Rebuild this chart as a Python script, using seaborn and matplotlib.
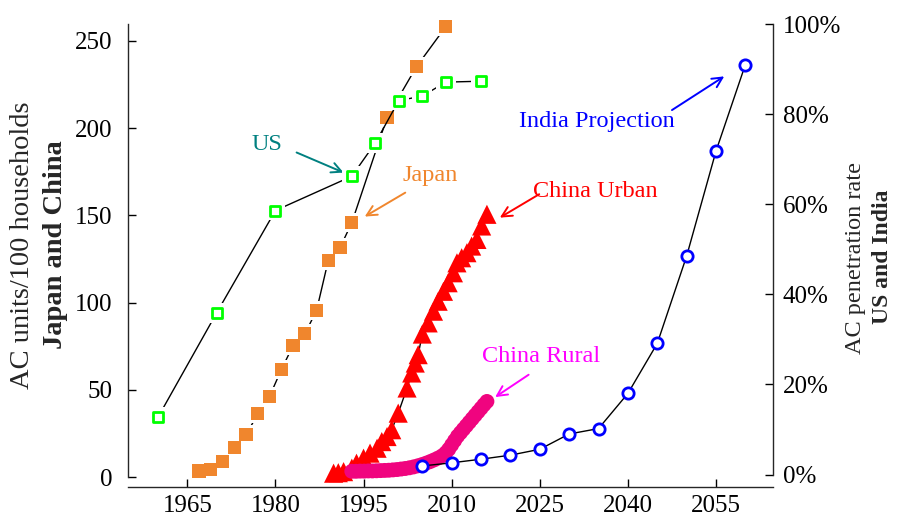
import matplotlib
matplotlib.use("Agg")
import matplotlib.pyplot as plt
import seaborn as sns
import pandas as pd
from matplotlib.ticker import PercentFormatter

# ---------------- data ----------------
us_years = [1960, 1970, 1980, 1993, 1997, 2001, 2005, 2009, 2015]
us_rate = [0.127, 0.359, 0.586, 0.662, 0.736, 0.830, 0.840, 0.871, 0.873]

japan_years = [1967, 1969, 1971, 1973, 1975, 1977, 1979, 1981, 1983, 1985,
               1987, 1989, 1991, 1993, 1999, 2004, 2009]
japan_units = [3.6, 4.6, 9.0, 17.2, 24.3, 36.3, 46.3, 61.6, 75.4, 82.1,
               95.5, 124.3, 131.5, 145.8, 206.1, 235.1, 258.1]

urban_years = [1989.9, 1990.7, 1991.6, 1993.0, 1993.8, 1995.0, 1996.1, 1997.3,
               1998.1, 1999.0, 1999.8, 2000.9, 2002.4, 2003.2, 2003.8, 2004.3,
               2005.0, 2006.0, 2006.9, 2007.7, 2008.6, 2009.4, 2010.3, 2010.9,
               2011.7, 2012.6, 2013.4, 2014.3, 2015.1, 2016.0]
urban_units = [2.3, 2.6, 3.2, 5.2, 8.0, 10.9, 13.8, 16.6,
               20.4, 23.3, 27.2, 36.7, 51.1, 59.7, 65.4, 70.2,
               82.0, 88.4, 95.1, 100.8, 106.5, 111.4, 117.1, 122.8,
               125.7, 128.6, 132.4, 136.2, 143.9, 150.6]

rural_years = [1993.0, 1993.7, 1994.4, 1995.1, 1995.8, 1996.5, 1997.2, 1997.9,
               1998.6, 1999.3, 2000.0, 2000.7, 2001.4, 2002.1, 2002.8, 2003.5,
               2004.2, 2004.9, 2005.6, 2006.3, 2007.0, 2007.7, 2008.4, 2009.0,
               2009.5, 2010.0, 2010.5, 2011.0, 2011.5, 2012.0, 2012.5, 2013.0,
               2013.5, 2014.0, 2014.5, 2015.0, 2015.5, 2016.0]
rural_units = [3.4, 3.4, 3.5, 3.5, 3.6, 3.6, 3.7, 3.8,
               3.9, 4.0, 4.2, 4.4, 4.7, 5.0, 5.4, 5.9,
               6.5, 7.2, 8.0, 8.9, 9.9, 11.0, 12.3, 14.0,
               16.0, 18.5, 21.0, 23.5, 25.5, 27.5, 29.5, 31.5,
               33.5, 35.5, 37.5, 39.5, 41.5, 43.4]

india_years = [2005, 2010, 2015, 2020, 2025, 2030, 2035, 2040, 2045, 2050, 2055, 2060]
india_rate = [0.019, 0.026, 0.034, 0.043, 0.056, 0.090, 0.102, 0.180, 0.291,
              0.485, 0.718, 0.910]

x_ticks = [1965, 1980, 1995, 2010, 2025, 2040, 2055]
left_ticks = [0, 50, 100, 150, 200, 250]
right_ticks = [0, 0.2, 0.4, 0.6, 0.8, 1.0]

# ---------------- style ----------------
sns.set_theme(style="ticks")
plt.rcParams["font.family"] = ["Liberation Serif", "STIXGeneral", "DejaVu Serif"]
plt.rcParams["axes.linewidth"] = 1.0

C_US = "#00FF00"
C_JP = "#F0862D"
C_URB = "#FF0000"
C_RUR = "#F0047F"
C_IND = "#0000FF"

fig, ax = plt.subplots(figsize=(9.01, 5.19), dpi=100)
fig.subplots_adjust(left=128 / 901, right=773 / 901, top=1 - 24 / 519, bottom=1 - 487 / 519)
ax2 = ax.twinx()

LW = 1.0
# left axis series
jp = pd.DataFrame({"x": japan_years, "y": japan_units})
ur = pd.DataFrame({"x": urban_years, "y": urban_units})
ru = pd.DataFrame({"x": rural_years, "y": rural_units})
sns.lineplot(data=jp, x="x", y="y", ax=ax, color="black", lw=LW, estimator=None, zorder=2)
sns.lineplot(data=ur, x="x", y="y", ax=ax, color="black", lw=LW, estimator=None, zorder=2)
# white halo so the connecting line stops short of each marker
sns.scatterplot(data=jp, x="x", y="y", ax=ax, marker="s", s=190, color="white",
                edgecolor="none", linewidth=0, zorder=2.5)
sns.scatterplot(data=jp, x="x", y="y", ax=ax, marker="s", s=90, color=C_JP,
                edgecolor="none", linewidth=0, zorder=3, clip_on=False)
sns.scatterplot(data=ur, x="x", y="y", ax=ax, marker="^", s=190, color=C_URB,
                edgecolor="none", linewidth=0, zorder=3)
sns.lineplot(data=ru, x="x", y="y", ax=ax, color="black", lw=LW, estimator=None, zorder=4)
sns.scatterplot(data=ru, x="x", y="y", ax=ax, marker="o", s=115, color=C_RUR,
                edgecolor="none", linewidth=0, zorder=5)

# right axis series
us = pd.DataFrame({"x": us_years, "y": us_rate})
ind = pd.DataFrame({"x": india_years, "y": india_rate})
sns.lineplot(data=us, x="x", y="y", ax=ax2, color="black", lw=LW, estimator=None, zorder=2)
sns.lineplot(data=ind, x="x", y="y", ax=ax2, color="black", lw=LW, estimator=None, zorder=2)
sns.scatterplot(data=us, x="x", y="y", ax=ax2, marker="s", s=200, color="white",
                edgecolor="none", linewidth=0, zorder=2.5)
sns.scatterplot(data=us, x="x", y="y", ax=ax2, marker="s", s=58, color="white",
                edgecolor=C_US, linewidth=2.0, zorder=3)
sns.scatterplot(data=ind, x="x", y="y", ax=ax2, marker="o", s=66, color="white",
                edgecolor=C_IND, linewidth=2.0, zorder=3)

# ---------------- axes ----------------
ax.set_xlim(1954.9, 2064.7)
ax.set_ylim(-5.6, 259.6)
ax2.set_ylim(-0.0277, 1.0)
ax.set_xticks(x_ticks)
ax.set_yticks(left_ticks)
ax2.set_yticks(right_ticks)
ax2.yaxis.set_major_formatter(PercentFormatter(1.0, decimals=0))
ax.set_xlabel("")
ax.set_ylabel("")
ax2.set_ylabel("")

for a in (ax, ax2):
    a.spines["top"].set_visible(False)
ax.spines["right"].set_visible(False)
ax2.spines["left"].set_visible(False)
ax2.spines["bottom"].set_visible(False)
ax.spines["left"].set_bounds(0, 259.6)
ax2.spines["right"].set_bounds(0, 1.0)

ax.tick_params(axis="x", direction="in", length=6, width=1, labelsize=18, pad=6, colors="black")
ax.tick_params(axis="y", direction="in", length=6, width=1, labelsize=18, pad=11, colors="black")
ax2.tick_params(axis="y", direction="in", length=6, width=1, labelsize=18, pad=7, colors="black")

# axis titles
fig.text(23 / 901, 1 - 245 / 519, "AC units/100 households", rotation=90,
         ha="center", va="center", fontsize=20.5)
fig.text(55 / 901, 1 - 245 / 519, "Japan and China", rotation=90,
         ha="center", va="center", fontsize=20.5, fontweight="bold")
fig.text(856 / 901, 1 - 258 / 519, "AC penetration rate", rotation=90,
         ha="center", va="center", fontsize=17.5)
fig.text(883 / 901, 1 - 257 / 519, "US and India", rotation=90,
         ha="center", va="center", fontsize=17, fontweight="bold")

# annotations (positions in left-axis data coordinates)
def label(text, txy, start, tip, color):
    ax.text(txy[0], txy[1], text, color=color, fontsize=17.5, ha="center", va="center", zorder=10)
    ax.annotate("", xy=tip, xytext=start,
                arrowprops=dict(arrowstyle="->", color=color, lw=1.4, mutation_scale=18,
                                shrinkA=0, shrinkB=0), zorder=10)

label("US", (1978.5, 190.8), (1983.6, 186.0), (1991.6, 174.5), "#008080")
label("Japan", (2006.3, 172.6), (2002.1, 163.0), (1995.2, 149.3), C_JP)
label("China Urban", (2034.4, 163.4), (2024.9, 162.1), (2018.2, 148.7), C_URB)
label("China Rural", (2025.3, 69.2), (2023.1, 58.7), (2017.4, 45.9), "#FF00FF")
label("India Projection", (2034.7, 203.6), (2047.5, 210.3), (2056.4, 229.6), C_IND)

fig.savefig("out.png", dpi=100)
